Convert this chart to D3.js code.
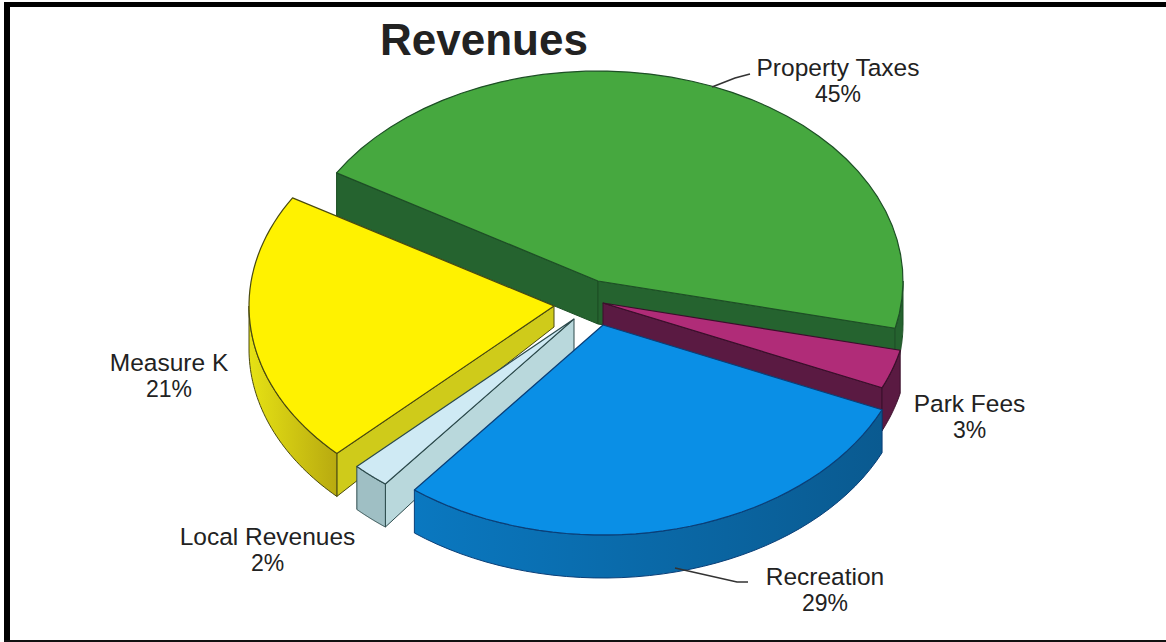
<!DOCTYPE html>
<html><head><meta charset="utf-8">
<script src="https://cdn.jsdelivr.net/npm/d3@7"></script>
<style>html,body{margin:0;padding:0;background:#fff}svg{display:block}text{font-family:"Liberation Sans",Arial,sans-serif;fill:#222}</style>
</head><body><svg id="c" width="1166" height="642"></svg>
<script>
const categories = ["Property Taxes","Park Fees","Recreation","Local Revenues","Measure K"];
const values = [45,3,29,2,21];
const percentLabels = ["45%","3%","29%","2%","21%"];
const title = "Revenues";

const topColors  = ["#46a83f","#b02c78","#0a8fe6","#cfeaf4","#fff200"];
const wallColors = ["#25632f","#5a1a42","#0a6ca8","#b9d8dc","#cfcb1a"];
const rimFrom    = ["#25632f","#5a1a42","#0a78c0","#9fbfc4","#e6e214"];
const rimTo      = ["#25632f","#5a1a42","#0a5a90","#9fbfc4","#b8aa10"];
const strokes    = ["#1d4f25","#3a0f2b","#0a3f78","#2c4a4c","#4a4a10"];
const apexX = [598,603,603,574,554];
const apexY = [281,303,325,319,306];
const apexDepth = [43,43,43,33,21];
const labelX = [838,969.5,825,267.5,169];
const labelY = [76,412,585,545,371];

const svg = d3.select("#c");
const rad = Math.PI/180;
const depth = 43;
const sx = d3.scaleLinear().domain([-1,1]).range([-305,305]);
const sy = d3.scaleLinear().domain([-1,1]).range([-210,210]);
const pie = d3.pie().sort(null).startAngle(-59*rad).endAngle(301*rad);
const arcs = pie(values);
const line = d3.line();
const pt = (i,a,dy=0)=>[apexX[i]+sx(Math.sin(a)), apexY[i]+sy(-Math.cos(a))+dy];
const samples = (a,b)=>d3.range(0,41).map(k=>a+(b-a)*k/40);

const defs = svg.append("defs");
const order = [0,4,3,1,2];

// frame
svg.append("rect").attr("x",4).attr("y",2).attr("width",1162).attr("height",5).attr("fill","#000");
svg.append("rect").attr("x",4).attr("y",2).attr("width",6).attr("height",640).attr("fill","#000");
svg.append("rect").attr("x",4).attr("y",640).attr("width",1162).attr("height",2).attr("fill","#111");

order.forEach(i=>{
  const d = arcs[i], g = svg.append("g");
  const s = d.startAngle, e = d.endAngle;
  const A = [apexX[i],apexY[i]];
  const wall = (a)=> {
    const o = pt(i,a);
    g.append("path").attr("d",line([A,o,[o[0],o[1]+depth],[A[0],A[1]+apexDepth[i]]])+"Z")
     .attr("fill",wallColors[i]).attr("stroke",strokes[i]).attr("stroke-width",1);
  };
  if (Math.cos(s-Math.PI/2)<0) wall(s);
  if (Math.cos(e+Math.PI/2)<0) wall(e);
  const a0 = Math.max(s,Math.PI/2), a1 = Math.min(e,1.5*Math.PI);
  if (a1>a0) {
    const top = samples(a0,a1).map(a=>pt(i,a));
    const bot = samples(a1,a0).map(a=>pt(i,a,depth));
    const id = "rim"+i;
    const xs = top.map(p=>p[0]);
    const lg = defs.append("linearGradient").attr("id",id).attr("gradientUnits","userSpaceOnUse")
      .attr("x1",d3.min(xs)).attr("x2",d3.max(xs)).attr("y1",0).attr("y2",0);
    lg.append("stop").attr("offset",0).attr("stop-color",rimFrom[i]);
    lg.append("stop").attr("offset",1).attr("stop-color",rimTo[i]);
    g.append("path").attr("d",line(top.concat(bot))+"Z").attr("fill",`url(#${id})`)
     .attr("stroke",strokes[i]).attr("stroke-width",1);
  }
  const outline = [A].concat(samples(s,e).map(a=>pt(i,a)));
  g.append("path").attr("d",line(outline)+"Z").attr("fill",topColors[i])
   .attr("stroke",strokes[i]).attr("stroke-width",1.2).attr("stroke-linejoin","round");
});

// leader lines
const leaders = [[[712,87],[735,78],[750,74]],[[675,568],[737,582],[748,582]]];
svg.selectAll("path.leader").data(leaders).join("path").attr("class","leader")
  .attr("d",d=>line(d)).attr("fill","none").attr("stroke","#333").attr("stroke-width",1.6);

svg.append("text").attr("x",484).attr("y",55).attr("text-anchor","middle")
  .attr("font-size",44).attr("font-weight",700).attr("fill","#1a1a1a").text(title);

categories.forEach((c,i)=>{
  const t = svg.append("text").attr("text-anchor","middle");
  t.append("tspan").attr("x",labelX[i]).attr("y",labelY[i]).attr("font-size",24.5).text(c);
  t.append("tspan").attr("x",labelX[i]).attr("y",labelY[i]+26).attr("font-size",23).text(percentLabels[i]);
});
</script></body></html>
